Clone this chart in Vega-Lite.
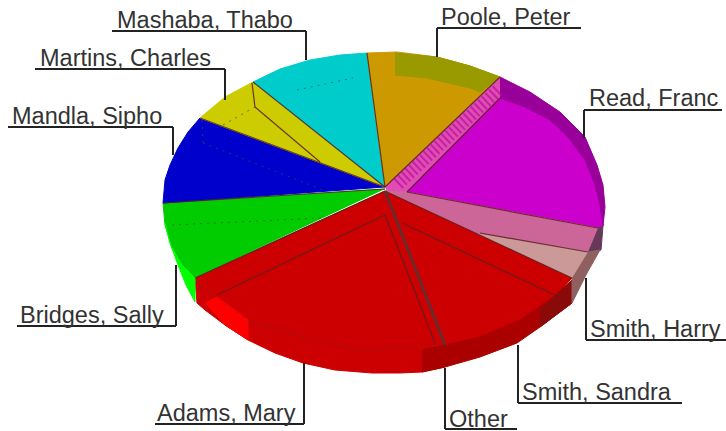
{"$schema":"https://vega.github.io/schema/vega-lite/v6.json","width":726,"height":431,"padding":0,"autosize":"none","background":"white","config":{"view":{"stroke":null}},
"datasets":{
"parts":[
{"p":"Adams, Mary","i":1,"x":385,"y":191},{"p":"Adams, Mary","i":2,"x":195,"y":278},{"p":"Adams, Mary","i":3,"x":197,"y":303},{"p":"Adams, Mary","i":4,"x":205,"y":310},{"p":"Adams, Mary","i":5,"x":225,"y":325},{"p":"Adams, Mary","i":6,"x":248,"y":340},{"p":"Adams, Mary","i":7,"x":275,"y":353},{"p":"Adams, Mary","i":8,"x":303,"y":363},{"p":"Adams, Mary","i":9,"x":335,"y":370},{"p":"Adams, Mary","i":10,"x":372,"y":373},{"p":"Adams, Mary","i":11,"x":400,"y":373},{"p":"Adams, Mary","i":12,"x":422,"y":372},{"p":"Adams, Mary","i":13,"x":445,"y":367},{"p":"Adams, Mary","i":14,"x":445,"y":345},
{"p":"Adams rim light","i":1,"x":205,"y":303},{"p":"Adams rim light","i":2,"x":217,"y":297},{"p":"Adams rim light","i":3,"x":248,"y":320},{"p":"Adams rim light","i":4,"x":248,"y":340},{"p":"Adams rim light","i":5,"x":225,"y":325},
{"p":"Other","i":1,"x":422,"y":350},{"p":"Other","i":2,"x":445,"y":345},{"p":"Other","i":3,"x":445,"y":367},{"p":"Other","i":4,"x":422,"y":372},
{"p":"Smith, Sandra","i":1,"x":385,"y":191},{"p":"Smith, Sandra","i":2,"x":572,"y":278},{"p":"Smith, Sandra","i":3,"x":553,"y":297},{"p":"Smith, Sandra","i":4,"x":520,"y":320},{"p":"Smith, Sandra","i":5,"x":480,"y":337},{"p":"Smith, Sandra","i":6,"x":445,"y":345},
{"p":"Sandra rim","i":1,"x":572,"y":280},{"p":"Sandra rim","i":2,"x":553,"y":297},{"p":"Sandra rim","i":3,"x":520,"y":320},{"p":"Sandra rim","i":4,"x":480,"y":337},{"p":"Sandra rim","i":5,"x":445,"y":345},{"p":"Sandra rim","i":6,"x":445,"y":367},{"p":"Sandra rim","i":7,"x":480,"y":357},{"p":"Sandra rim","i":8,"x":517,"y":343},{"p":"Sandra rim","i":9,"x":540,"y":327},{"p":"Sandra rim","i":10,"x":572,"y":303},
{"p":"Sandra hatch","i":1,"x":540,"y":310},{"p":"Sandra hatch","i":2,"x":572,"y":280},{"p":"Sandra hatch","i":3,"x":572,"y":303},{"p":"Sandra hatch","i":4,"x":540,"y":327},
{"p":"Bridges, Sally","i":1,"x":385,"y":189},{"p":"Bridges, Sally","i":2,"x":163,"y":203},{"p":"Bridges, Sally","i":3,"x":165,"y":225},{"p":"Bridges, Sally","i":4,"x":172,"y":248},{"p":"Bridges, Sally","i":5,"x":182,"y":265},{"p":"Bridges, Sally","i":6,"x":195,"y":278},
{"p":"Bridges rim","i":1,"x":165,"y":223},{"p":"Bridges rim","i":2,"x":170,"y":243},{"p":"Bridges rim","i":3,"x":178,"y":265},{"p":"Bridges rim","i":4,"x":186,"y":285},{"p":"Bridges rim","i":5,"x":195,"y":302},{"p":"Bridges rim","i":6,"x":195,"y":278},{"p":"Bridges rim","i":7,"x":182,"y":265},{"p":"Bridges rim","i":8,"x":172,"y":248},
{"p":"Mandla, Sipho","i":1,"x":385,"y":187},{"p":"Mandla, Sipho","i":2,"x":163,"y":203},{"p":"Mandla, Sipho","i":3,"x":165,"y":180},{"p":"Mandla, Sipho","i":4,"x":170,"y":165},{"p":"Mandla, Sipho","i":5,"x":178,"y":148},{"p":"Mandla, Sipho","i":6,"x":188,"y":132},{"p":"Mandla, Sipho","i":7,"x":200,"y":118},
{"p":"Martins, Charles","i":1,"x":385,"y":187},{"p":"Martins, Charles","i":2,"x":200,"y":118},{"p":"Martins, Charles","i":3,"x":225,"y":97},{"p":"Martins, Charles","i":4,"x":253,"y":82},
{"p":"Mashaba, Thabo","i":1,"x":385,"y":187},{"p":"Mashaba, Thabo","i":2,"x":253,"y":82},{"p":"Mashaba, Thabo","i":3,"x":280,"y":69},{"p":"Mashaba, Thabo","i":4,"x":310,"y":60},{"p":"Mashaba, Thabo","i":5,"x":340,"y":55},{"p":"Mashaba, Thabo","i":6,"x":367,"y":53},
{"p":"Poole, Peter","i":1,"x":385,"y":187},{"p":"Poole, Peter","i":2,"x":367,"y":53},{"p":"Poole, Peter","i":3,"x":397,"y":52},{"p":"Poole, Peter","i":4,"x":437,"y":57},{"p":"Poole, Peter","i":5,"x":470,"y":66},{"p":"Poole, Peter","i":6,"x":500,"y":77},
{"p":"Poole rim","i":1,"x":395,"y":53},{"p":"Poole rim","i":2,"x":437,"y":57},{"p":"Poole rim","i":3,"x":470,"y":66},{"p":"Poole rim","i":4,"x":500,"y":77},{"p":"Poole rim","i":5,"x":480,"y":92},{"p":"Poole rim","i":6,"x":470,"y":88},{"p":"Poole rim","i":7,"x":427,"y":78},{"p":"Poole rim","i":8,"x":395,"y":75},
{"p":"Stripe","i":1,"x":385,"y":187},{"p":"Stripe","i":2,"x":500,"y":77},{"p":"Stripe","i":3,"x":500,"y":98},{"p":"Stripe","i":4,"x":407,"y":192},{"p":"Stripe","i":5,"x":387,"y":192},
{"p":"Read, Franc","i":1,"x":407,"y":192},{"p":"Read, Franc","i":2,"x":500,"y":98},{"p":"Read, Franc","i":3,"x":525,"y":107},{"p":"Read, Franc","i":4,"x":550,"y":120},{"p":"Read, Franc","i":5,"x":568,"y":137},{"p":"Read, Franc","i":6,"x":585,"y":160},{"p":"Read, Franc","i":7,"x":595,"y":185},{"p":"Read, Franc","i":8,"x":600,"y":205},{"p":"Read, Franc","i":9,"x":603,"y":226},{"p":"Read, Franc","i":10,"x":598,"y":228},
{"p":"Read rim","i":1,"x":500,"y":77},{"p":"Read rim","i":2,"x":530,"y":92},{"p":"Read rim","i":3,"x":560,"y":112},{"p":"Read rim","i":4,"x":585,"y":137},{"p":"Read rim","i":5,"x":597,"y":165},{"p":"Read rim","i":6,"x":603,"y":185},{"p":"Read rim","i":7,"x":605,"y":207},{"p":"Read rim","i":8,"x":603,"y":226},{"p":"Read rim","i":9,"x":600,"y":205},{"p":"Read rim","i":10,"x":595,"y":185},{"p":"Read rim","i":11,"x":585,"y":160},{"p":"Read rim","i":12,"x":568,"y":137},{"p":"Read rim","i":13,"x":550,"y":120},{"p":"Read rim","i":14,"x":525,"y":107},{"p":"Read rim","i":15,"x":500,"y":98},
{"p":"Mauve","i":1,"x":386,"y":191},{"p":"Mauve","i":2,"x":407,"y":192},{"p":"Mauve","i":3,"x":598,"y":228},{"p":"Mauve","i":4,"x":588,"y":252},{"p":"Mauve","i":5,"x":480,"y":235},
{"p":"Smith, Harry","i":1,"x":478,"y":234},{"p":"Smith, Harry","i":2,"x":588,"y":252},{"p":"Smith, Harry","i":3,"x":572,"y":278},
{"p":"Mauve rim","i":1,"x":598,"y":228},{"p":"Mauve rim","i":2,"x":603,"y":226},{"p":"Mauve rim","i":3,"x":601,"y":250},{"p":"Mauve rim","i":4,"x":588,"y":252},
{"p":"Harry rim","i":1,"x":588,"y":252},{"p":"Harry rim","i":2,"x":600,"y":250},{"p":"Harry rim","i":3,"x":587,"y":273},{"p":"Harry rim","i":4,"x":572,"y":303},{"p":"Harry rim","i":5,"x":572,"y":278}
],
"leaders":[
{"x":112,"x2":306,"y":31,"y2":31},{"x":306,"x2":306,"y":31,"y2":60},
{"x":35,"x2":225,"y":69,"y2":69},{"x":225,"x2":225,"y":69,"y2":100},
{"x":8,"x2":173,"y":127,"y2":127},{"x":173,"x2":173,"y":127,"y2":155},
{"x":17,"x2":176,"y":326,"y2":326},{"x":176,"x2":176,"y":265,"y2":326},
{"x":155,"x2":304,"y":424,"y2":424},{"x":304,"x2":304,"y":363,"y2":424},
{"x":445,"x2":517,"y":429,"y2":429},{"x":445,"x2":445,"y":368,"y2":429},
{"x":518,"x2":682,"y":403,"y2":403},{"x":518,"x2":518,"y":345,"y2":403},
{"x":586,"x2":726,"y":340,"y2":340},{"x":586,"x2":586,"y":278,"y2":340},
{"x":584,"x2":722,"y":110,"y2":110},{"x":584,"x2":584,"y":110,"y2":138},
{"x":437,"x2":581,"y":28,"y2":28},{"x":437,"x2":437,"y":28,"y2":57}
],
"edges":[
{"x":385,"x2":445,"y":191,"y2":345,"w":"thick"},
{"x":385,"x2":217,"y":215,"y2":295,"w":"thin"},{"x":385,"x2":435,"y":215,"y2":343,"w":"thin"},{"x":402,"x2":555,"y":223,"y2":295,"w":"thin"},{"x":385,"x2":195,"y":191,"y2":278,"w":"thin"},{"x":385,"x2":572,"y":191,"y2":278,"w":"thin"},{"x":385,"x2":163,"y":189,"y2":203,"w":"thin"},{"x":385,"x2":200,"y":187,"y2":118,"w":"thin"},{"x":385,"x2":253,"y":187,"y2":82,"w":"thin"},{"x":385,"x2":367,"y":187,"y2":53,"w":"thin"},{"x":385,"x2":500,"y":187,"y2":77,"w":"thin"},{"x":407,"x2":500,"y":192,"y2":98,"w":"thin"},{"x":407,"x2":598,"y":192,"y2":228,"w":"thin"},{"x":480,"x2":588,"y":233,"y2":252,"w":"thin"},{"x":255,"x2":320,"y":107,"y2":162,"w":"thin"},{"x":252,"x2":255,"y":83,"y2":107,"w":"thin"}
],
"hatch":[{"x":398,"x2":499,"y":184,"y2":89}],
"dots":[
{"x":172,"x2":322,"y":225,"y2":218},{"x":203,"x2":323,"y":143,"y2":190},{"x":202,"x2":203,"y":120,"y2":143},{"x":223,"x2":255,"y":125,"y2":107},{"x":297,"x2":353,"y":90,"y2":78},{"x":197,"x2":248,"y":283,"y2":322},{"x":248,"x2":355,"y":322,"y2":350},{"x":355,"x2":445,"y":350,"y2":345}
],
"labels":[
{"t":"Mashaba, Thabo","x":117,"y":28},{"t":"Martins, Charles","x":40,"y":66},{"t":"Mandla, Sipho","x":12,"y":124},{"t":"Bridges, Sally","x":20,"y":323},{"t":"Adams, Mary","x":157,"y":421},{"t":"Other","x":449,"y":427},{"t":"Smith, Sandra","x":522,"y":400},{"t":"Smith, Harry","x":590,"y":337},{"t":"Read, Franc","x":589,"y":106},{"t":"Poole, Peter","x":441,"y":25}
]},
"layer":[
{"data":{"name":"parts"},"mark":{"type":"line","strokeWidth":1,"interpolate":"linear"},
"encoding":{"x":{"field":"x","type":"quantitative","scale":{"domain":[0,726],"nice":false,"zero":false},"axis":null},"y":{"field":"y","type":"quantitative","scale":{"domain":[431,0],"nice":false,"zero":false},"axis":null},"order":{"field":"i","type":"quantitative"},"detail":{"field":"p"},
"fill":{"field":"p","type":"nominal","legend":null,"scale":{"domain":["Adams, Mary","Adams rim light","Other","Smith, Sandra","Sandra rim","Sandra hatch","Bridges, Sally","Bridges rim","Mandla, Sipho","Martins, Charles","Mashaba, Thabo","Poole, Peter","Poole rim","Stripe","Read, Franc","Read rim","Mauve","Smith, Harry","Mauve rim","Harry rim"],"range":["#cc0000","#ff0000","#aa0000","#cc0000","#aa0000","#8a0a0a","#00cc00","#00ff00","#0000cc","#cccc00","#00cccc","#cc9900","#999900","#e04cb4","#cc00cc","#990099","#cc6699","#cc9999","#66385a","#8f6060"]}},
"stroke":{"field":"p","type":"nominal","legend":null,"scale":{"domain":["Adams, Mary","Adams rim light","Other","Smith, Sandra","Sandra rim","Sandra hatch","Bridges, Sally","Bridges rim","Mandla, Sipho","Martins, Charles","Mashaba, Thabo","Poole, Peter","Poole rim","Stripe","Read, Franc","Read rim","Mauve","Smith, Harry","Mauve rim","Harry rim"],"range":["#cc0000","#ff0000","#aa0000","#cc0000","#aa0000","#8a0a0a","#00cc00","#00ff00","#0000cc","#cccc00","#00cccc","#cc9900","#999900","#e04cb4","#cc00cc","#990099","#cc6699","#cc9999","#66385a","#8f6060"]}}}},
{"data":{"name":"hatch"},"mark":{"type":"rule","stroke":"#b8109a","strokeWidth":13,"strokeDash":[2,3],"opacity":0.7},"encoding":{"x":{"field":"x","type":"quantitative"},"x2":{"field":"x2"},"y":{"field":"y","type":"quantitative"},"y2":{"field":"y2"}}},
{"data":{"name":"edges"},"transform":[{"filter":"datum.w==='thin'"}],"mark":{"type":"rule","stroke":"#5a2020","strokeWidth":1.2,"opacity":0.85},"encoding":{"x":{"field":"x","type":"quantitative"},"x2":{"field":"x2"},"y":{"field":"y","type":"quantitative"},"y2":{"field":"y2"}}},
{"data":{"name":"edges"},"transform":[{"filter":"datum.w==='thick'"}],"mark":{"type":"rule","stroke":"#6a2a2a","strokeWidth":3},"encoding":{"x":{"field":"x","type":"quantitative"},"x2":{"field":"x2"},"y":{"field":"y","type":"quantitative"},"y2":{"field":"y2"}}},
{"data":{"name":"dots"},"mark":{"type":"rule","stroke":"#444444","strokeWidth":1,"strokeDash":[2,5],"opacity":0.7},"encoding":{"x":{"field":"x","type":"quantitative"},"x2":{"field":"x2"},"y":{"field":"y","type":"quantitative"},"y2":{"field":"y2"}}},
{"data":{"name":"leaders"},"mark":{"type":"rule","stroke":"#222222","strokeWidth":2},"encoding":{"x":{"field":"x","type":"quantitative"},"x2":{"field":"x2"},"y":{"field":"y","type":"quantitative"},"y2":{"field":"y2"}}},
{"data":{"name":"labels"},"mark":{"type":"text","align":"left","baseline":"alphabetic","font":"Liberation Sans","fontSize":23.5,"fill":"#333333"},"encoding":{"x":{"field":"x","type":"quantitative"},"y":{"field":"y","type":"quantitative"},"text":{"field":"t"}}}
]}
